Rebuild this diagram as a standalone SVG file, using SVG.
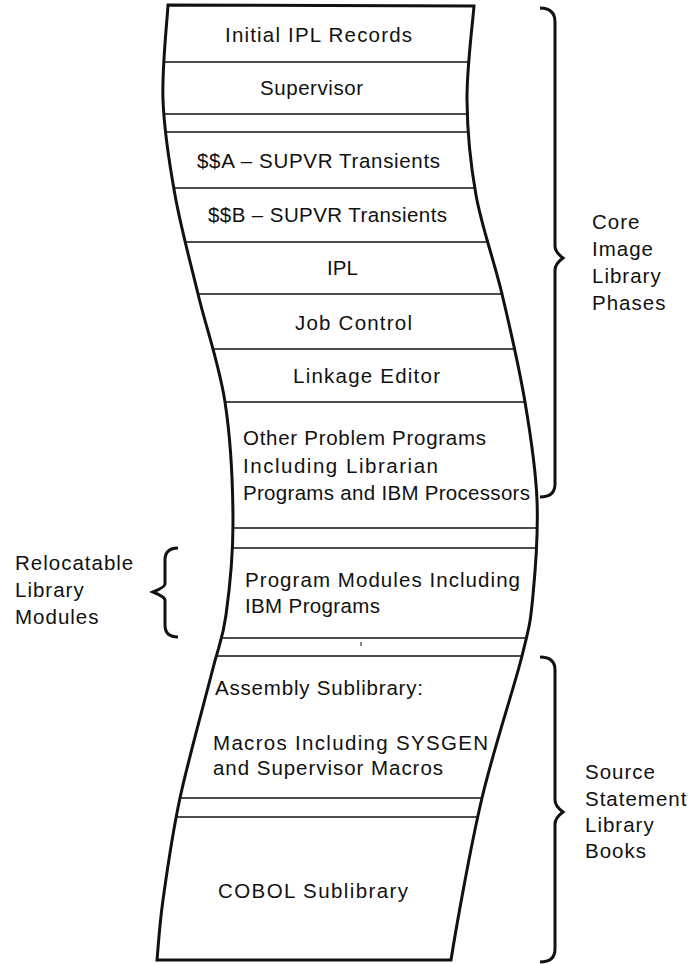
<svg xmlns="http://www.w3.org/2000/svg" width="699" height="964" viewBox="0 0 699 964">
  <style>
    text { font-family: "Liberation Sans", Arial, sans-serif; font-size: 20.5px; fill: #111; }
    .side { letter-spacing: 1px; }
    .outline { fill: none; stroke: #111; stroke-width: 3; stroke-linejoin: miter; }
    .divider { stroke: #111; stroke-width: 1.5; }
    .brace { fill: none; stroke: #111; stroke-width: 3; stroke-linejoin: miter; stroke-linecap: butt; }
  </style>
  <defs>
    <!-- Wavy library strip; same outline used for clipping the dividers -->
    <path id="strip" d="M168,5
      C167.2,20.8 161.8,68.3 163,100
      C164.2,131.7 169.2,162.7 175,195
      C180.8,227.3 189.7,259.5 198,294
      C206.3,328.5 219.2,364.3 225,402
      C230.8,439.7 232.8,484.5 233,520
      C233.2,555.5 229.5,589.7 226,615
      C222.5,640.3 219.7,641.5 212,672
      C204.3,702.5 188.2,760 180,798
      C171.8,836 166.8,873 163,900
      C159.2,927 158,950 157,960
      L451,960
      C455.3,933 470,848.7 482,798
      C494,747.3 513.5,689.8 522,656
      C530.5,622.2 530.5,621 533,595
      C535.5,569 538.3,532.2 537,500
      C535.7,467.8 530.8,436.3 525,402
      C519.2,367.7 510.2,328.5 502,294
      C493.8,259.5 481.8,227.3 476,195
      C470.2,162.7 467.3,131.5 467,100
      C466.7,68.5 472.8,21.7 474,6
      Z"/>
    <clipPath id="stripClip">
      <use href="#strip"/>
    </clipPath>
  </defs>

  <rect width="699" height="964" fill="#fff"/>

  <!-- section dividers -->
  <g id="dividers" clip-path="url(#stripClip)">
    <line class="divider" x1="100" y1="62" x2="600" y2="62"/>
    <line class="divider" x1="100" y1="114" x2="600" y2="114"/>
    <line class="divider" x1="100" y1="132" x2="600" y2="132"/>
    <line class="divider" x1="100" y1="188" x2="600" y2="188"/>
    <line class="divider" x1="100" y1="242" x2="600" y2="242"/>
    <line class="divider" x1="100" y1="294" x2="600" y2="294"/>
    <line class="divider" x1="100" y1="349" x2="600" y2="349"/>
    <line class="divider" x1="100" y1="402" x2="600" y2="402"/>
    <line class="divider" x1="100" y1="528" x2="600" y2="528"/>
    <line class="divider" x1="100" y1="548" x2="600" y2="548"/>
    <line class="divider" x1="100" y1="638" x2="600" y2="638"/>
    <line class="divider" x1="100" y1="656" x2="600" y2="656"/>
    <line class="divider" x1="100" y1="798" x2="600" y2="798"/>
    <line class="divider" x1="100" y1="817" x2="600" y2="817"/>
    <line x1="361" y1="642" x2="361" y2="646" stroke="#111" stroke-width="1"/>
  </g>

  <!-- strip outline -->
  <g id="strip-outline">
    <use href="#strip" class="outline"/>
  </g>

  <!-- sections -->
  <g id="initial-ipl-records"><text x="225" y="42" textLength="187" lengthAdjust="spacing">Initial IPL Records</text></g>
  <g id="supervisor"><text x="260" y="95" textLength="103" lengthAdjust="spacing">Supervisor</text></g>
  <g id="transients-a"><text x="197" y="168" textLength="243" lengthAdjust="spacing">$$A – SUPVR Transients</text></g>
  <g id="transients-b"><text x="208" y="222" textLength="239" lengthAdjust="spacing">$$B – SUPVR Transients</text></g>
  <g id="ipl"><text x="327" y="275" textLength="31" lengthAdjust="spacing">IPL</text></g>
  <g id="job-control"><text x="295" y="330" textLength="117" lengthAdjust="spacing">Job Control</text></g>
  <g id="linkage-editor"><text x="293" y="383" textLength="147" lengthAdjust="spacing">Linkage Editor</text></g>
  <g id="other-problem-programs">
    <text x="243" y="445" textLength="243" lengthAdjust="spacing">Other Problem Programs</text>
    <text x="243" y="473" textLength="195" lengthAdjust="spacing">Including Librarian</text>
    <text x="243" y="500" textLength="287" lengthAdjust="spacing">Programs and IBM Processors</text>
  </g>
  <g id="program-modules">
    <text x="245" y="587" textLength="275" lengthAdjust="spacing">Program Modules Including</text>
    <text x="245" y="613" textLength="135" lengthAdjust="spacing">IBM Programs</text>
  </g>
  <g id="assembly-sublibrary">
    <text x="215" y="695" textLength="208" lengthAdjust="spacing">Assembly Sublibrary:</text>
    <text x="213" y="750" textLength="275" lengthAdjust="spacing">Macros Including SYSGEN</text>
    <text x="213" y="775" textLength="230" lengthAdjust="spacing">and Supervisor Macros</text>
  </g>
  <g id="cobol-sublibrary"><text x="218" y="898" textLength="190" lengthAdjust="spacing">COBOL Sublibrary</text></g>

  <!-- grouping braces -->
  <g id="braces">
    <path class="brace" d="M540,8 Q555,8 555,22 L555,246 Q555,252 563,258 Q555,264 555,270 L555,484 Q555,497 540,497"/>
    <path class="brace" d="M178,548 Q165,548 165,560 L165,584 Q165,587 153,592 Q165,597 165,600 L165,625 Q165,637 178,637"/>
    <path class="brace" d="M540,657 Q555,657 555,670 L555,800 Q555,806 563,812 Q555,818 555,824 L555,949 Q555,962 540,962"/>
  </g>

  <!-- group labels -->
  <g id="label-core-image">
    <text class="side" x="592" y="229">Core</text>
    <text class="side" x="592" y="256">Image</text>
    <text class="side" x="592" y="283">Library</text>
    <text class="side" x="592" y="310">Phases</text>
  </g>
  <g id="label-relocatable">
    <text class="side" x="15" y="570">Relocatable</text>
    <text class="side" x="15" y="597">Library</text>
    <text class="side" x="15" y="624">Modules</text>
  </g>
  <g id="label-source-statement">
    <text class="side" x="585" y="779">Source</text>
    <text class="side" x="585" y="806">Statement</text>
    <text class="side" x="585" y="832">Library</text>
    <text class="side" x="585" y="858">Books</text>
  </g>
</svg>
